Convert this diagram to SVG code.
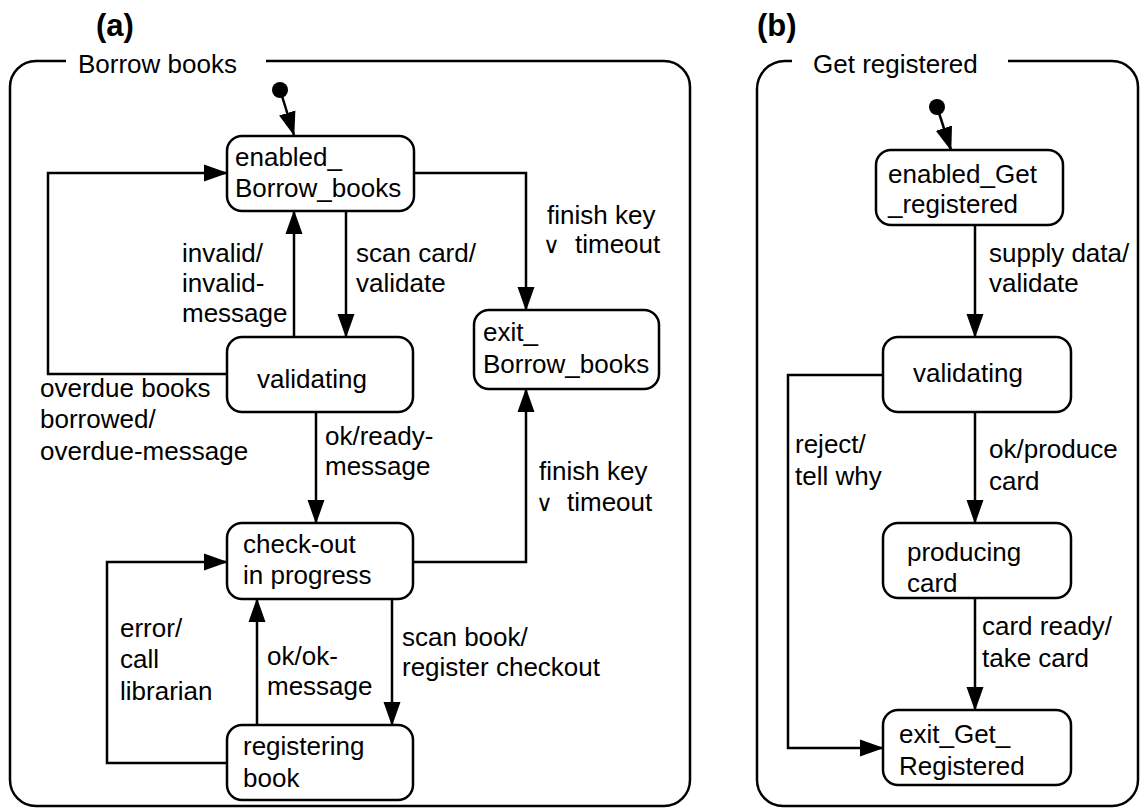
<svg xmlns="http://www.w3.org/2000/svg" width="1141" height="809" viewBox="0 0 1141 809">
<defs>
<style>
text{font-family:"Liberation Sans",Arial,sans-serif;font-size:26px;fill:#000}
.t{font-weight:bold;font-size:31px}
.box{fill:#fff;stroke:#000;stroke-width:2.5}
.frame{fill:none;stroke:#000;stroke-width:2.5}
.c{fill:none;stroke:#000;stroke-width:2.5;marker-end:url(#ah)}
.sym{font-family:"DejaVu Sans",sans-serif;font-size:23px}
</style>
<marker id="ah" markerUnits="userSpaceOnUse" markerWidth="24" markerHeight="18" refX="23" refY="8.5" orient="auto" viewBox="0 0 24 17">
<path d="M0,0 L24,8.5 L0,17 z" fill="#000"/>
</marker>
</defs>
<text class="t" x="96" y="36">(a)</text>
<text class="t" x="757" y="36">(b)</text>
<g id="frame-a">
<path class="frame" d="M66,61 H36 A26,26 0 0 0 10,87 V780 A26,26 0 0 0 36,806 H664 A26,26 0 0 0 690,780 V87 A26,26 0 0 0 664,61 H266"/>
<text x="78" y="73">Borrow books</text>
</g>
<g id="frame-b">
<path class="frame" d="M792,61 H785 A28,28 0 0 0 757,89 V780 A26,26 0 0 0 783,806 H1112 A26,26 0 0 0 1138,780 V87 A26,26 0 0 0 1112,61 H1008"/>
<text x="813" y="73">Get registered</text>
</g>
<g id="connectors">
<circle cx="280" cy="90" r="8" fill="#000"/>
<line class="c" x1="282" y1="96" x2="294" y2="135"/>
<path class="c" d="M414,173 H526 V310"/>
<line class="c" x1="346" y1="211" x2="346" y2="337"/>
<line class="c" x1="294" y1="337" x2="294" y2="211"/>
<path class="c" d="M227,374 H48 V173 H227"/>
<line class="c" x1="316" y1="412" x2="316" y2="523"/>
<path class="c" d="M413,562 H526 V389"/>
<line class="c" x1="392" y1="599" x2="392" y2="725"/>
<line class="c" x1="257" y1="725" x2="257" y2="599"/>
<path class="c" d="M227,763 H107 V562 H227"/>
<circle cx="937" cy="107" r="8" fill="#000"/>
<line class="c" x1="939" y1="113" x2="951" y2="150"/>
<line class="c" x1="975" y1="225" x2="975" y2="337"/>
<path class="c" d="M883,375 H788 V748 H883"/>
<line class="c" x1="975" y1="412" x2="975" y2="523"/>
<line class="c" x1="975" y1="598" x2="975" y2="710"/>
</g>
<g id="labels">
<text x="182" y="262">invalid/</text>
<text x="182" y="292">invalid-</text>
<text x="182" y="322">message</text>
<text x="356" y="262">scan card/</text>
<text x="356" y="292">validate</text>
<text x="547" y="224">finish key</text>
<text x="543" y="253"><tspan class="sym">∨</tspan><tspan x="575">timeout</tspan></text>
<text x="40" y="397">overdue books</text>
<text x="40" y="428">borrowed/</text>
<text x="40" y="460">overdue-message</text>
<text x="325" y="445">ok/ready-</text>
<text x="325" y="475">message</text>
<text x="539" y="480">finish key</text>
<text x="536" y="511"><tspan class="sym">∨</tspan><tspan x="567">timeout</tspan></text>
<text x="120" y="637">error/</text>
<text x="120" y="668">call</text>
<text x="120" y="700">librarian</text>
<text x="267" y="665">ok/ok-</text>
<text x="267" y="695">message</text>
<text x="402" y="646">scan book/</text>
<text x="402" y="676">register checkout</text>
<text x="989" y="262">supply data/</text>
<text x="989" y="292">validate</text>
<text x="795" y="453">reject/</text>
<text x="795" y="485">tell why</text>
<text x="989" y="458">ok/produce</text>
<text x="989" y="490">card</text>
<text x="982" y="635">card ready/</text>
<text x="982" y="667">take card</text>
</g>
<g id="enabled_Borrow_books">
<rect class="box" x="227" y="136" width="187" height="75" rx="15"/>
<text x="235" y="166">enabled_</text>
<text x="235" y="197">Borrow_books</text>
</g>
<g id="validating_a">
<rect class="box" x="227" y="337" width="186" height="75" rx="15"/>
<text x="257" y="388">validating</text>
</g>
<g id="exit_Borrow_books">
<rect class="box" x="474" y="310" width="185" height="79" rx="15"/>
<text x="483" y="341">exit_</text>
<text x="483" y="373">Borrow_books</text>
</g>
<g id="check-out">
<rect class="box" x="227" y="523" width="186" height="76" rx="15"/>
<text x="243" y="553">check-out</text>
<text x="243" y="584">in progress</text>
</g>
<g id="registering_book">
<rect class="box" x="227" y="725" width="186" height="75" rx="15"/>
<text x="243" y="755">registering</text>
<text x="243" y="787">book</text>
</g>
<g id="enabled_Get_registered">
<rect class="box" x="876" y="150" width="187" height="75" rx="15"/>
<text x="888" y="183">enabled_Get</text>
<text x="888" y="213">_registered</text>
</g>
<g id="validating_b">
<rect class="box" x="883" y="337" width="188" height="75" rx="15"/>
<text x="913" y="382">validating</text>
</g>
<g id="producing_card">
<rect class="box" x="883" y="523" width="188" height="75" rx="15"/>
<text x="907" y="561">producing</text>
<text x="907" y="592">card</text>
</g>
<g id="exit_Get_Registered">
<rect class="box" x="883" y="710" width="188" height="75" rx="15"/>
<text x="899" y="743">exit_Get_</text>
<text x="899" y="775">Registered</text>
</g>
</svg>
